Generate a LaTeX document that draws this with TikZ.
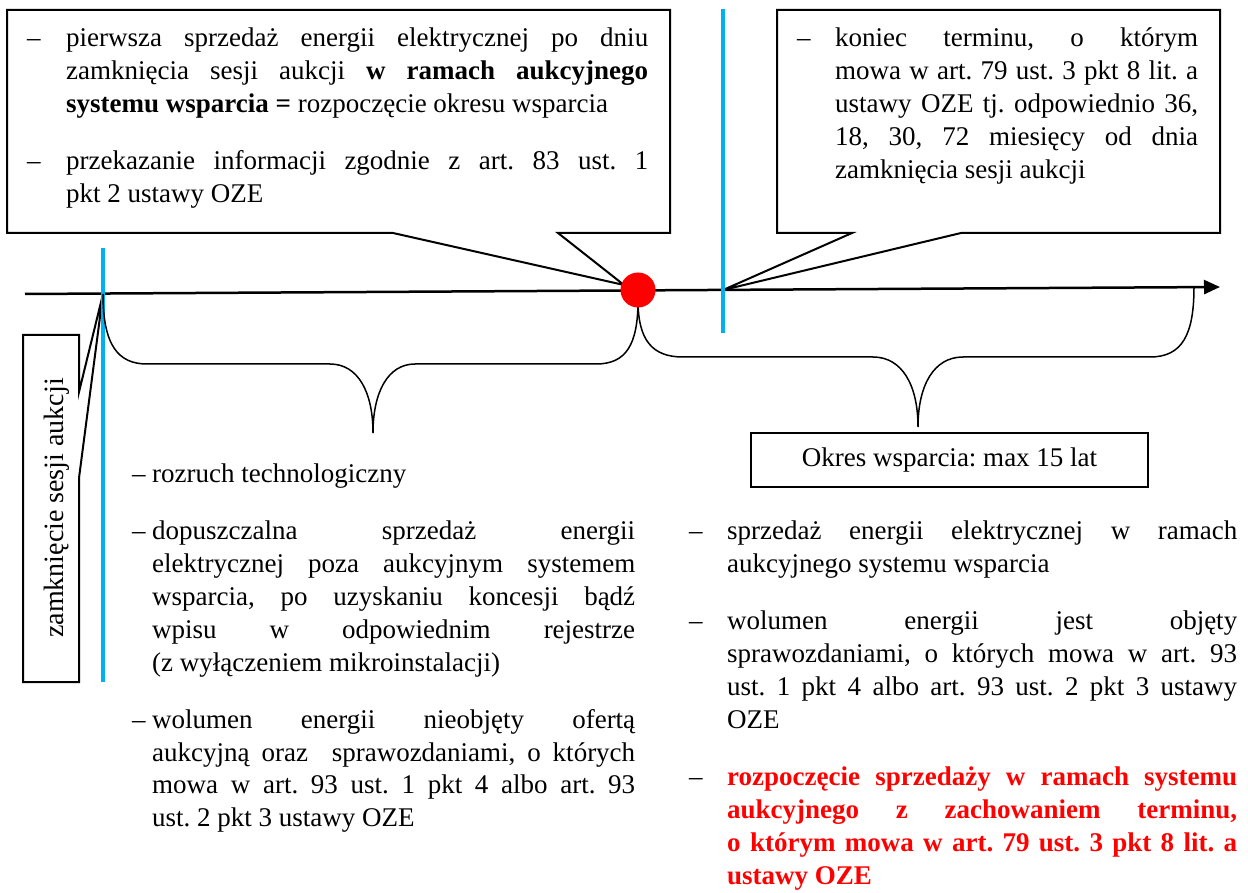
\documentclass[tikz,border=0pt]{standalone}
\usepackage{fontspec}
\setmainfont{Liberation Serif}
\usetikzlibrary{arrows.meta}
\definecolor{osblue}{RGB}{0,176,240}
\definecolor{osred}{RGB}{255,0,0}
\tolerance=9999
\emergencystretch=3em
\hyphenpenalty=10000
\frenchspacing
% one dash item: #1 hang width, #2 text
\newcommand{\dashitem}[2]{\hangindent=#1\hangafter=1\noindent\makebox[#1][l]{--}#2\par}

\begin{document}
\begin{tikzpicture}[x=1pt,y=-1pt,
  txt/.style={anchor=base west,inner sep=0pt,align=justify,font=\fontsize{27}{33}\selectfont},
  callout/.style={draw,line width=2pt,fill=white,line join=miter},
  brace/.style={line width=1.5pt},
  marker/.style={draw=osblue,line width=4pt}]
\useasboundingbox (0,0) rectangle (1248,893);

% time axis
\coordinate (axisL) at (25,294);
\coordinate (axisR) at (1220,287);
\coordinate (close) at (103,294);
\coordinate (term) at (723,290);
\coordinate (bend) at (1194,287);
\draw [-{Triangle[length=16pt,width=14pt]},line width=2.5pt] (axisL) -- (axisR);

% callouts
\draw [callout] (7,10) -- (670,10) -- (670,233) -- (558,233) -- (624,285)
  -- (393,233) -- (7,233) -- cycle;
\draw [callout] (777,10) -- (1220,10) -- (1220,233) -- (961,233) -- (term)
  -- (852,233) -- (777,233) -- cycle;
\draw [callout] (23,335) -- (79,335) -- (79,392) -- (close) -- (79,478)
  -- (79,682) -- (23,682) -- cycle;

% markers
\draw [marker] (103,248) -- (103,682);
\draw [marker] (723,9) -- (723,333);

% braces
\coordinate (tipA) at (373,433);
\coordinate (tipB) at (918,427);
\draw [brace] (close) .. controls (103,345) and (118,364) .. (147,364) -- (330,364)
  .. controls (358,364) and (373,392) .. (tipA)
  .. controls (373,392) and (388,364) .. (415,364) -- (596,364)
  .. controls (626,364) and (638,345) .. (638,300);
\draw [brace] (638,300) .. controls (638,340) and (652,357) .. (683,357) -- (873,357)
  .. controls (902,357) and (918,385) .. (tipB)
  .. controls (918,385) and (934,357) .. (963,357) -- (1150,357)
  .. controls (1182,357) and (1194,335) .. (bend);

\node (dot) at (638,290) [circle,fill=osred,minimum size=35pt,inner sep=0pt] {};

% texts
\node (first) [txt,text width=621pt] at (27,47) {\setlength{\parskip}{24pt}%
\dashitem{39pt}{pierwsza sprzedaż energii elektrycznej po dniu\linebreak
zamknięcia sesji aukcji \textbf{w ramach aukcyjnego}\linebreak
\textbf{systemu wsparcia =} rozpoczęcie okresu wsparcia}
\dashitem{39pt}{przekazanie informacji zgodnie z art. 83 ust. 1\linebreak
pkt 2 ustawy OZE}};

\node (deadline) [txt,text width=401pt] at (797,47) {%
\dashitem{38pt}{koniec terminu, o którym\linebreak
mowa w art. 79 ust. 3 pkt 8 lit. a\linebreak
ustawy OZE tj. odpowiednio 36,\linebreak
18, 30, 72 miesięcy od dnia\linebreak
zamknięcia sesji aukcji}};

\node (closing) [txt,align=center,anchor=base,rotate=90,font=\fontsize{28}{33}\selectfont]
  at (63,508) {zamknięcie sesji aukcji};

\node (before) [txt,text width=503pt] at (132,482) {\setlength{\parskip}{24pt}%
\dashitem{20pt}{rozruch technologiczny}
\dashitem{20pt}{dopuszczalna sprzedaż energii\linebreak
elektrycznej poza aukcyjnym systemem\linebreak
wsparcia, po uzyskaniu koncesji bądź\linebreak
wpisu w odpowiednim rejestrze\linebreak
(z wyłączeniem mikroinstalacji)}
\dashitem{20pt}{wolumen energii nieobjęty ofertą\linebreak
aukcyjną oraz~ sprawozdaniami, o których\linebreak
mowa w art. 93 ust. 1 pkt 4 albo art. 93\linebreak
ust. 2 pkt 3 ustawy OZE}};

\node (period) [draw,line width=1.5pt,minimum width=397pt,minimum height=54pt,
  font=\fontsize{27}{33}\selectfont] at (949.5,460) {Okres wsparcia: max 15 lat};

\node (after) [txt,text width=548pt] at (689,539) {\setlength{\parskip}{24pt}%
\dashitem{38pt}{sprzedaż energii elektrycznej w ramach\linebreak
aukcyjnego systemu wsparcia}
\dashitem{38pt}{wolumen energii jest objęty\linebreak
sprawozdaniami, o których mowa w art. 93\linebreak
ust. 1 pkt 4 albo art. 93 ust. 2 pkt 3 ustawy\linebreak
OZE}
\dashitem{38pt}{\textcolor{osred}{\textbf{rozpoczęcie sprzedaży w ramach systemu\linebreak
aukcyjnego z zachowaniem terminu,\linebreak
o którym mowa w art. 79 ust. 3 pkt 8 lit. a\linebreak
ustawy OZE}}}};
\end{tikzpicture}
\end{document}
